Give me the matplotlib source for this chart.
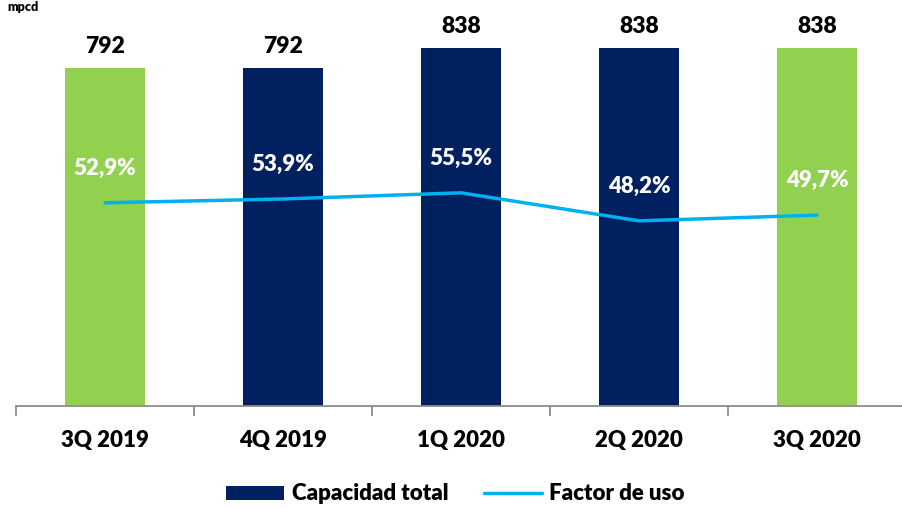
import matplotlib.pyplot as plt

quarters = ["3Q 2019", "4Q 2019", "1Q 2020", "2Q 2020", "3Q 2020"]
capacidad = [792, 792, 838, 838, 838]
factor_uso = [52.9, 53.9, 55.5, 48.2, 49.7]
bar_colors = ["#92D050", "#002060", "#002060", "#002060", "#92D050"]

plt.rcParams['font.family'] = ['Lato', 'DejaVu Sans']
plt.rcParams['font.weight'] = 'heavy'
W = 'heavy'

fig = plt.figure(figsize=(9.02, 5.08), dpi=100)
ax = fig.add_axes([16 / 902, 102 / 508, 890 / 902, 406 / 508])
ax2 = ax.twinx()

x = range(len(quarters))
bars = ax.bar(x, capacidad, width=0.455, color=bar_colors, zorder=2)
ax.set_ylim(0, 951)
ax.set_xlim(-0.5, 4.5)

for i, v in enumerate(capacidad):
    ax.annotate(str(v), (i, v), xytext=(0, 8), textcoords="offset points",
                ha="center", va="bottom", fontsize=16.5, fontweight=W, color="black")

line, = ax2.plot(x, factor_uso, color="#00B0F0", lw=2.5, zorder=3,
                 solid_capstyle="round")
ax2.set_ylim(0, 105.7)
for i, v in enumerate(factor_uso):
    ax2.annotate(f"{v:.1f}%".replace(".", ","), (i, v), xytext=(0, 25),
                 textcoords="offset points", ha="center", va="center",
                 fontsize=16, fontweight=W, color="white")

for a in (ax, ax2):
    for s in ("top", "right", "left"):
        a.spines[s].set_visible(False)
    a.set_yticks([])
ax2.spines["bottom"].set_visible(False)
ax.spines["bottom"].set_color("#8c8c8c")
ax.spines["bottom"].set_linewidth(1.3)

ax.set_xticks(list(x))
ax.set_xticklabels(quarters, fontsize=16, fontweight=W)
ax.tick_params(axis="x", which="major", length=0, pad=17)
ax.set_xticks([i - 0.5 for i in range(len(quarters) + 1)], minor=True)
ax.tick_params(axis="x", which="minor", length=7, width=1.3, color="#8c8c8c")

fig.text(0.008, 0.999, "mpcd", fontsize=9, fontweight=W, va="top", ha="left")

leg = fig.legend([bars[1], line], ["Capacidad total", "Factor de uso"],
                 loc="center", bbox_to_anchor=(0.505, 14 / 508),
                 ncol=2, frameon=False, fontsize=16, handlelength=2.6,
                 handleheight=0.6, columnspacing=1.6, handletextpad=0.35)
for t in leg.get_texts():
    t.set_fontweight(W)

fig.savefig("out.png", dpi=100)
